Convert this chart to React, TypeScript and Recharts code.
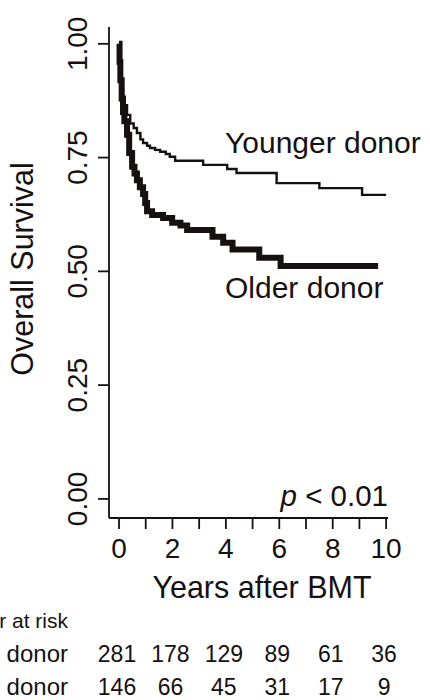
import React from "react";
import { LineChart, Line, XAxis, YAxis } from "recharts";

const INK = "#161010";
const FONT = '"Liberation Sans", Arial, Helvetica, sans-serif';

// Kaplan-Meier steps (years, survival)
const youngerTime = [0, 0.02, 0.05, 0.1, 0.15, 0.2, 0.3, 0.42, 0.55, 0.67, 0.8, 0.9, 1.05, 1.16, 1.35, 1.54, 1.75, 1.9, 2.1, 3.15, 4.05, 4.4, 5.9, 7.5, 9.1, 10.0];
const youngerSurv = [1.0, 0.96, 0.93, 0.9, 0.88, 0.865, 0.844, 0.825, 0.815, 0.804, 0.79, 0.782, 0.776, 0.771, 0.767, 0.763, 0.758, 0.752, 0.743, 0.734, 0.725, 0.716, 0.694, 0.683, 0.668, 0.668];

const olderTime = [0, 0.02, 0.05, 0.1, 0.15, 0.2, 0.3, 0.38, 0.49, 0.58, 0.67, 0.78, 0.9, 0.98, 1.05, 1.24, 1.65, 1.99, 2.3, 2.55, 3.5, 3.9, 4.25, 5.25, 6.05, 9.7];
const olderSurv = [1.0, 0.96, 0.92, 0.88, 0.85, 0.83, 0.8, 0.76, 0.73, 0.715, 0.7, 0.685, 0.67, 0.65, 0.632, 0.624, 0.617, 0.607, 0.601, 0.591, 0.576, 0.563, 0.548, 0.53, 0.512, 0.512];

const xTicks = [0, 1, 2, 3, 4, 5, 6, 7, 8, 9, 10];
const yTicks = [0, 0.25, 0.5, 0.75, 1];

// number at risk
const riskTimes = [0, 2, 4, 6, 8, 10];
const riskYounger = [281, 178, 129, 89, 61, 36];
const riskOlder = [146, 66, 45, 31, 17, 9];

const younger = youngerTime.map((t, i) => ({ t, s: youngerSurv[i] }));
const older = olderTime.map((t, i) => ({ t, s: olderSurv[i] }));

function XTick(props: any) {
  const { x, y, payload } = props;
  const v = payload.value;
  if (v % 2 !== 0) return null;
  const idx = riskTimes.indexOf(v);
  return (
    <g fontFamily={FONT} fill={INK}>
      <text x={x} y={y + 29} textAnchor="middle" fontSize={28}>
        {v}
      </text>
      {idx >= 0 && (
        <>
          <text x={x - 2} y={y + 133} textAnchor="middle" fontSize={23}>
            {riskYounger[idx]}
          </text>
          <text x={x - 2} y={y + 166} textAnchor="middle" fontSize={23}>
            {riskOlder[idx]}
          </text>
        </>
      )}
    </g>
  );
}

function YTick(props: any) {
  const { x, y, payload } = props;
  return (
    <g transform={`translate(${x - 11},${y}) rotate(-90)`}>
      <text x={0} y={0} textAnchor="middle" fontSize={28} fontFamily={FONT} fill={INK}>
        {Number(payload.value).toFixed(2)}
      </text>
    </g>
  );
}

export default function App() {
  return (
    <div style={{ position: "absolute", left: 0, top: 0, width: 430, height: 700, background: "#fff" }}>
      <LineChart width={430} height={700} margin={{ top: 27, right: 42, bottom: 0, left: 0 }}>
        <XAxis
          dataKey="t"
          type="number"
          domain={[-0.375, 10.07]}
          ticks={xTicks}
          interval={0}
          allowDataOverflow
          height={182}
          tickSize={11}
          tickMargin={0}
          axisLine={{ stroke: INK, strokeWidth: 1.8 }}
          tickLine={{ stroke: INK, strokeWidth: 1.8 }}
          tick={<XTick />}
        />
        <YAxis
          type="number"
          domain={[-0.042, 1.037]}
          ticks={yTicks}
          interval={0}
          allowDataOverflow
          width={109}
          tickSize={11}
          tickMargin={0}
          axisLine={{ stroke: INK, strokeWidth: 1.8 }}
          tickLine={{ stroke: INK, strokeWidth: 1.8 }}
          tick={<YTick />}
        />
        <Line
          data={younger}
          dataKey="s"
          type="stepAfter"
          stroke={INK}
          strokeWidth={2.4}
          dot={false}
          isAnimationActive={false}
        />
        <Line
          data={older}
          dataKey="s"
          type="stepAfter"
          stroke={INK}
          strokeWidth={6}
          dot={false}
          isAnimationActive={false}
        />
        <g fontFamily={FONT} fill={INK}>
          <text x={33} y={269} transform="rotate(-90, 33, 269)" textAnchor="middle" fontSize={30.5}>
            Overall Survival
          </text>
          <text x={262} y={598} textAnchor="middle" fontSize={30.5}>
            Years after BMT
          </text>
          <text x={225} y={153} fontSize={30}>
            Younger donor
          </text>
          <text x={225} y={298} fontSize={30}>
            Older donor
          </text>
          <text x={388} y={506} textAnchor="end" fontSize={29.5}>
            <tspan fontStyle="italic">p</tspan> &lt; 0.01
          </text>
          <text x={68} y={628} textAnchor="end" fontSize={21}>
            Number at risk
          </text>
          <text x={68} y={662} textAnchor="end" fontSize={24}>
            Younger donor
          </text>
          <text x={68} y={695} textAnchor="end" fontSize={24}>
            Older donor
          </text>
        </g>
      </LineChart>
    </div>
  );
}
